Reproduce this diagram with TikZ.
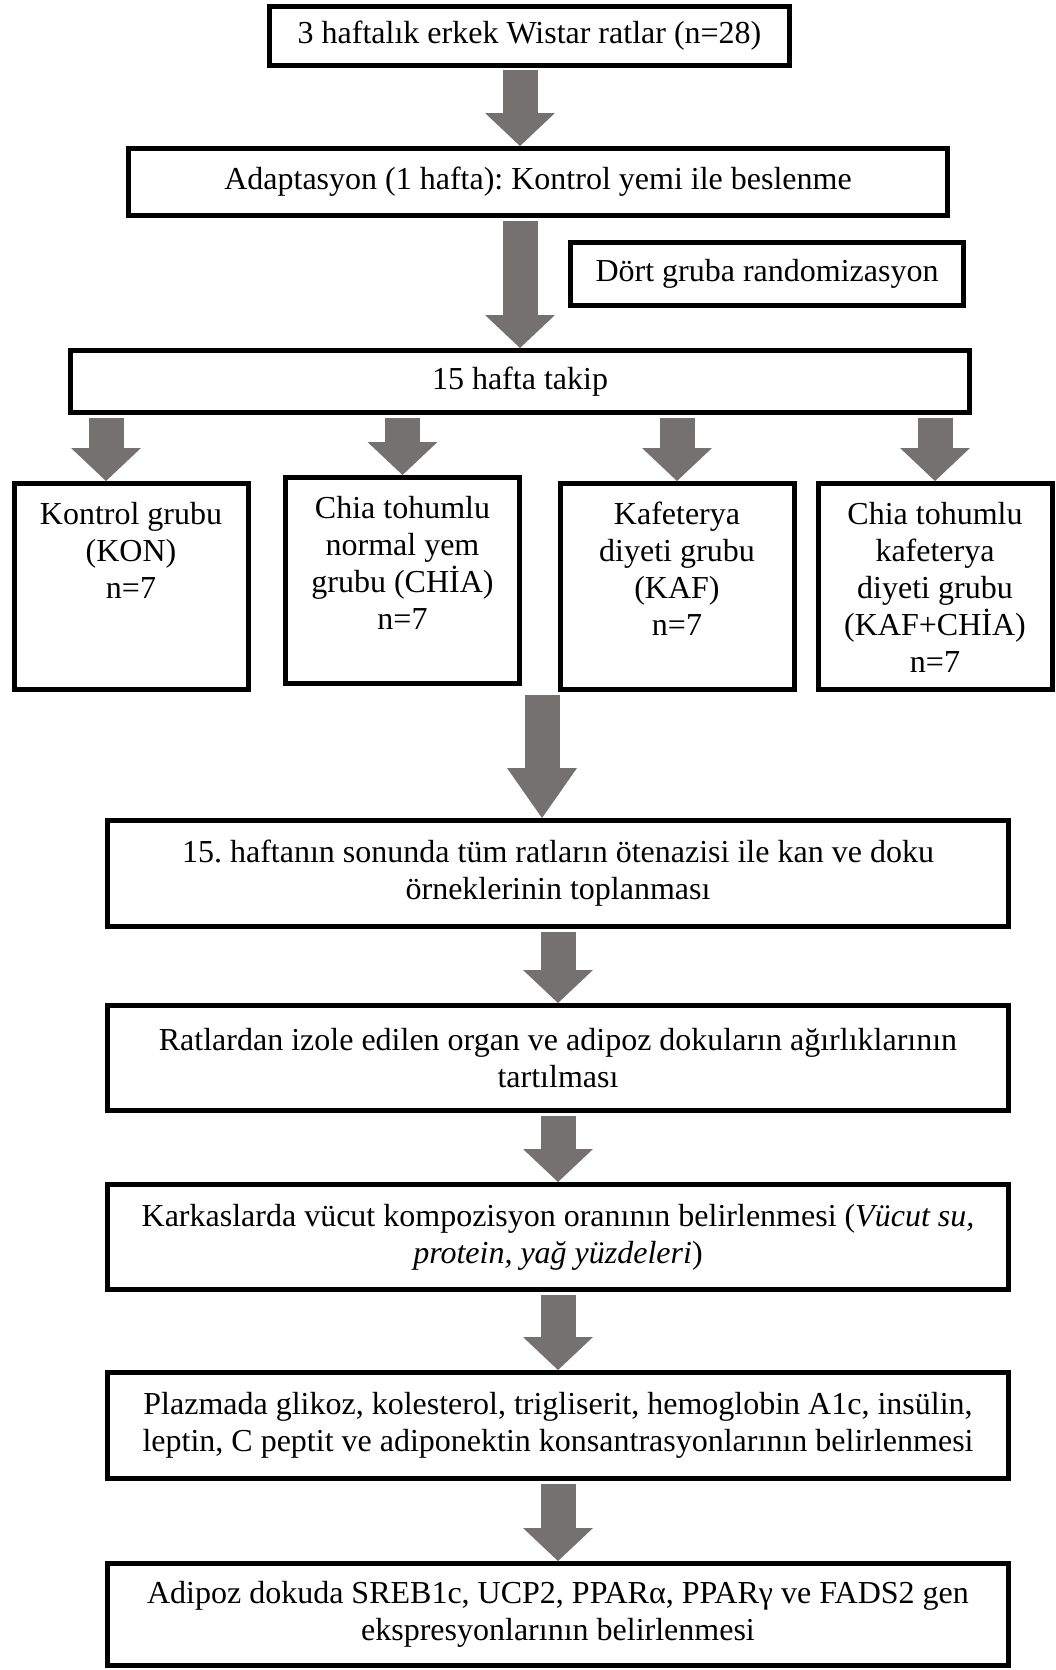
\documentclass[tikz,border=0pt]{standalone}
\usepackage{fontspec}
\setmainfont{Liberation Serif}
\usetikzlibrary{arrows.meta}
\definecolor{arrowgray}{RGB}{118,113,113}
\frenchspacing

\tikzset{
  box/.style={draw, line width=5pt, inner sep=0pt, align=center, font=\fontsize{32}{37}\selectfont},
  grp/.style={box, minimum width=234pt, minimum height=206pt},
  wide/.style={box, minimum width=901pt},
  flow/.style={draw=arrowgray, line width=35pt, shorten <=2.5pt, -{Triangle[width=70pt,length=33pt,line width=0pt]}}
}
\newcommand{\grptext}[1]{\parbox[t][169pt][t]{232pt}{\centering #1}}

\begin{document}
\begin{tikzpicture}[x=1pt, y=-1pt]
\useasboundingbox (0,0) rectangle (1055,1670);
% top part
\node[box, minimum width=520pt, minimum height=59pt] (rats) at (529.5,36) {3 haftalık erkek Wistar ratlar (n=28)};
\node[box, minimum width=819pt, minimum height=67pt] (adapt) at (538,182) {Adaptasyon (1 hafta): Kontrol yemi ile beslenme};
\node[box, minimum width=393pt, minimum height=63pt] (rand) at (767,274) {Dört gruba randomizasyon};
\node[box, minimum width=899pt, minimum height=62pt] (follow) at (520,381.5) {15 hafta takip};
% groups
\node[grp] (kon) at (131,586.5) {\grptext{Kontrol grubu\\(KON)\\n=7}};
\node[grp] (chia) at (402.5,580.5) {\grptext{Chia tohumlu\\normal yem\\grubu (CHİA)\\n=7}};
\node[grp] (kaf) at (677,586.5) {\grptext{Kafeterya\\diyeti grubu\\(KAF)\\n=7}};
\node[grp] (kafchia) at (935,586.5) {\grptext{Chia tohumlu\\kafeterya\\diyeti grubu\\(KAF+CHİA)\\n=7}};
% analyses
\node[wide, minimum height=106pt] (collect) at (558,873.5) {15. haftanın sonunda tüm ratların ötenazisi ile kan ve doku\\örneklerinin toplanması};
\node[wide, minimum height=105pt] (weigh) at (558,1058) {Ratlardan izole edilen organ ve adipoz dokuların ağırlıklarının\\tartılması};
\node[wide, minimum height=105pt] (comp) at (558,1237) {Karkaslarda vücut kompozisyon oranının belirlenmesi (\textit{Vücut su,}\\\textit{protein, yağ yüzdeleri})};
\node[wide, minimum height=106pt] (plasma) at (558,1425.5) {Plazmada glikoz, kolesterol, trigliserit, hemoglobin A1c, insülin,\\leptin, C peptit ve adiponektin konsantrasyonlarının belirlenmesi};
\node[wide, minimum height=102pt] (gene) at (558,1614.5) {Adipoz dokuda SREB1c, UCP2, PPARα, PPARγ ve FADS2 gen\\ekspresyonlarının belirlenmesi};
% arrows
\draw[flow] (rats.south -| follow.north) -- (adapt.north -| follow.north);
\draw[flow] (adapt.south -| follow.north) -- (follow.north);
\draw[flow] ([xshift=-25pt]kon.north |- follow.south) -- ([xshift=-25pt]kon.north);
\draw[flow] (chia.north |- follow.south) -- (chia.north);
\draw[flow] (kaf.north |- follow.south) -- (kaf.north);
\draw[flow] (kafchia.north |- follow.south) -- (kafchia.north);
\draw[flow, -{Triangle[width=70pt,length=50pt,line width=0pt]}] ([xshift=-16pt]collect.north |- kaf.south) -- ([xshift=-16pt]collect.north);
\draw[flow] (collect.south) -- (weigh.north);
\draw[flow] (weigh.south) -- (comp.north);
\draw[flow] (comp.south) -- (plasma.north);
\draw[flow] (plasma.south) -- (gene.north);
\end{tikzpicture}
\end{document}
